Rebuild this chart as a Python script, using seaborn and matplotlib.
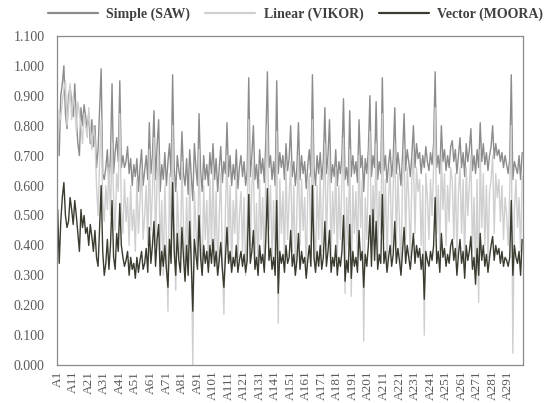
import numpy as np
import pandas as pd
import matplotlib
matplotlib.use("Agg")
import matplotlib.pyplot as plt
import seaborn as sns

# values, alternatives A1..A300
saw = [
    0.78, 0.70, 0.90, 0.94, 1.00, 0.84, 0.79, 0.90, 0.93, 0.88,
    0.83, 0.94, 0.82, 0.74, 0.70, 0.86, 0.80, 0.87, 0.83, 0.79,
    0.84, 0.74, 0.82, 0.73, 0.80, 0.66, 0.72, 0.86, 0.99, 0.64,
    0.62, 0.66, 0.72, 0.60, 0.70, 0.94, 0.64, 0.71, 0.76, 0.68,
    0.95, 0.66, 0.70, 0.66, 0.68, 0.73, 0.64, 0.69, 0.60, 0.67,
    0.63, 0.69, 0.58, 0.66, 0.72, 0.60, 0.65, 0.70, 0.62, 0.81,
    0.64, 0.70, 0.85, 0.62, 0.73, 0.82, 0.58, 0.67, 0.62, 0.71,
    0.60, 0.68, 0.74, 0.63, 0.97, 0.66, 0.58, 0.70, 0.65, 0.62,
    0.78, 0.64, 0.60, 0.69, 0.57, 0.72, 0.63, 0.55, 0.74, 0.66,
    0.60, 0.84, 0.65, 0.58, 0.70, 0.62, 0.67, 0.60, 0.71, 0.64,
    0.74, 0.62, 0.69, 0.58, 0.66, 0.73, 0.61, 0.68, 0.64, 0.81,
    0.63, 0.70, 0.60, 0.67, 0.62, 0.72, 0.59, 0.66, 0.70, 0.63,
    0.68, 0.60, 0.65, 0.96, 0.63, 0.70, 0.80, 0.62, 0.67, 0.59,
    0.72, 0.64, 0.69, 0.61, 0.75, 0.98, 0.66, 0.70, 0.62, 0.68,
    0.60, 0.95, 0.64, 0.71, 0.66, 0.70, 0.62, 0.74, 0.65, 0.69,
    0.80, 0.63, 0.68, 0.60, 0.66, 0.81, 0.62, 0.70, 0.64, 0.68,
    0.59, 0.67, 0.72, 0.63, 0.97, 0.66, 0.60, 0.70, 0.64, 0.71,
    0.62, 0.68, 0.86, 0.64, 0.70, 0.82, 0.61, 0.67, 0.63, 0.72,
    0.60, 0.68, 0.64, 0.70, 0.89, 0.62, 0.66, 0.60, 0.85, 0.63,
    0.70, 0.64, 0.68, 0.61, 0.82, 0.66, 0.70, 0.58, 0.69, 0.64,
    0.72, 0.90, 0.63, 0.70, 0.66, 0.88, 0.62, 0.68, 0.64, 0.96,
    0.65, 0.70, 0.61, 0.67, 0.72, 0.63, 0.69, 0.86, 0.64, 0.71,
    0.66, 0.60, 0.70, 0.84, 0.65, 0.72, 0.68, 0.63, 0.70, 0.80,
    0.66, 0.74, 0.69, 0.71, 0.64, 0.70, 0.66, 0.73, 0.68, 0.65,
    0.71, 0.67, 0.74, 0.98, 0.66, 0.70, 0.64, 0.80, 0.68, 0.72,
    0.65, 0.70, 0.66, 0.73, 0.75, 0.68, 0.72, 0.64, 0.70, 0.76,
    0.66, 0.71, 0.63, 0.74, 0.68, 0.72, 0.79, 0.65, 0.70, 0.64,
    0.72, 0.66, 0.81, 0.68, 0.74, 0.67, 0.71, 0.65, 0.70, 0.73,
    0.80, 0.69, 0.74, 0.70, 0.72, 0.68, 0.71, 0.66, 0.70, 0.67,
    0.64, 0.69, 0.97, 0.62, 0.68, 0.66, 0.64, 0.70, 0.62, 0.71,
]

vikor = [
    0.70, 0.85, 0.82, 0.88, 0.92, 0.95, 0.80, 0.86, 0.94, 0.82,
    0.90, 0.86, 0.78, 0.88, 0.84, 0.80, 0.74, 0.84, 0.80, 0.76,
    0.86, 0.78, 0.72, 0.80, 0.76, 0.60, 0.50, 0.68, 0.82, 0.55,
    0.48, 0.60, 0.52, 0.66, 0.50, 0.74, 0.56, 0.45, 0.64, 0.58,
    0.84, 0.52, 0.44, 0.62, 0.48, 0.56, 0.40, 0.60, 0.45, 0.52,
    0.38, 0.62, 0.44, 0.55, 0.66, 0.42, 0.50, 0.60, 0.40, 0.72,
    0.45, 0.58, 0.76, 0.40, 0.62, 0.70, 0.36, 0.55, 0.30, 0.60,
    0.42, 0.18, 0.64, 0.40, 0.80, 0.48, 0.25, 0.58, 0.44, 0.36,
    0.68, 0.46, 0.30, 0.56, 0.34, 0.62, 0.40, 0.00, 0.58, 0.46,
    0.35, 0.72, 0.44, 0.30, 0.60, 0.42, 0.55, 0.34, 0.62, 0.40,
    0.66, 0.38, 0.58, 0.30, 0.50, 0.64, 0.36, 0.17, 0.52, 0.70,
    0.40, 0.60, 0.32, 0.55, 0.44, 0.62, 0.35, 0.50, 0.58, 0.38,
    0.56, 0.30, 0.48, 0.82, 0.40, 0.60, 0.68, 0.36, 0.54, 0.30,
    0.62, 0.42, 0.56, 0.34, 0.64, 0.80, 0.45, 0.60, 0.36, 0.55,
    0.32, 0.78, 0.14, 0.62, 0.44, 0.58, 0.36, 0.66, 0.42, 0.56,
    0.68, 0.38, 0.60, 0.30, 0.52, 0.70, 0.40, 0.62, 0.45, 0.56,
    0.30, 0.58, 0.64, 0.36, 0.82, 0.48, 0.34, 0.60, 0.42, 0.64,
    0.38, 0.56, 0.74, 0.40, 0.62, 0.70, 0.36, 0.58, 0.44, 0.66,
    0.35, 0.60, 0.42, 0.62, 0.76, 0.24, 0.56, 0.40, 0.72, 0.23,
    0.60, 0.44, 0.58, 0.36, 0.70, 0.46, 0.62, 0.08, 0.56, 0.42,
    0.64, 0.78, 0.40, 0.60, 0.48, 0.74, 0.36, 0.58, 0.44, 0.84,
    0.42, 0.62, 0.34, 0.56, 0.66, 0.38, 0.60, 0.74, 0.40, 0.64,
    0.48, 0.32, 0.62, 0.72, 0.42, 0.66, 0.56, 0.36, 0.62, 0.70,
    0.44, 0.66, 0.58, 0.62, 0.40, 0.60, 0.10, 0.64, 0.56, 0.42,
    0.62, 0.50, 0.66, 0.86, 0.44, 0.60, 0.38, 0.70, 0.52, 0.64,
    0.40, 0.60, 0.48, 0.66, 0.62, 0.42, 0.64, 0.36, 0.58, 0.66,
    0.44, 0.62, 0.34, 0.66, 0.50, 0.60, 0.70, 0.38, 0.56, 0.30,
    0.62, 0.21, 0.72, 0.46, 0.64, 0.40, 0.60, 0.36, 0.58, 0.62,
    0.70, 0.44, 0.64, 0.56, 0.62, 0.48, 0.60, 0.42, 0.56, 0.50,
    0.40, 0.58, 0.80, 0.04, 0.52, 0.62, 0.46, 0.56, 0.38, 0.63,
]

moora = [
    0.52, 0.34, 0.48, 0.56, 0.61, 0.50, 0.46, 0.48, 0.56, 0.52,
    0.47, 0.55, 0.50, 0.44, 0.38, 0.52, 0.46, 0.50, 0.44, 0.46,
    0.40, 0.47, 0.43, 0.38, 0.45, 0.36, 0.33, 0.46, 0.60, 0.38,
    0.30, 0.34, 0.42, 0.32, 0.40, 0.55, 0.36, 0.32, 0.44, 0.38,
    0.54, 0.40, 0.36, 0.33, 0.35, 0.38, 0.30, 0.36, 0.32, 0.34,
    0.29, 0.36, 0.31, 0.35, 0.38, 0.32, 0.34, 0.39, 0.31, 0.46,
    0.34, 0.40, 0.48, 0.33, 0.42, 0.47, 0.30, 0.38, 0.33, 0.40,
    0.32, 0.26, 0.42, 0.34, 0.61, 0.38, 0.30, 0.44, 0.35, 0.31,
    0.46, 0.36, 0.28, 0.40, 0.30, 0.48, 0.34, 0.18, 0.42, 0.37,
    0.32, 0.50, 0.36, 0.30, 0.40, 0.34, 0.38, 0.31, 0.40, 0.34,
    0.42, 0.33, 0.38, 0.30, 0.35, 0.41, 0.32, 0.26, 0.36, 0.46,
    0.34, 0.38, 0.31, 0.36, 0.33, 0.40, 0.31, 0.35, 0.38, 0.33,
    0.37, 0.31, 0.35, 0.57, 0.34, 0.38, 0.45, 0.32, 0.36, 0.30,
    0.40, 0.34, 0.37, 0.31, 0.42, 0.59, 0.35, 0.39, 0.32, 0.36,
    0.30, 0.55, 0.24, 0.38, 0.34, 0.37, 0.31, 0.40, 0.34, 0.36,
    0.45, 0.33, 0.37, 0.30, 0.35, 0.44, 0.32, 0.38, 0.34, 0.36,
    0.29, 0.35, 0.40, 0.33, 0.60, 0.36, 0.31, 0.38, 0.33, 0.40,
    0.32, 0.36, 0.48, 0.33, 0.38, 0.45, 0.31, 0.36, 0.33, 0.40,
    0.30, 0.36, 0.33, 0.38, 0.50, 0.28, 0.35, 0.31, 0.47, 0.29,
    0.38, 0.33, 0.36, 0.31, 0.45, 0.35, 0.38, 0.26, 0.37, 0.33,
    0.40, 0.50, 0.33, 0.52, 0.35, 0.48, 0.32, 0.37, 0.34, 0.57,
    0.34, 0.38, 0.31, 0.36, 0.40, 0.33, 0.37, 0.48, 0.34, 0.39,
    0.35, 0.30, 0.38, 0.46, 0.34, 0.40, 0.36, 0.32, 0.38, 0.44,
    0.34, 0.40, 0.36, 0.39, 0.32, 0.37, 0.22, 0.38, 0.35, 0.33,
    0.38, 0.35, 0.40, 0.56, 0.34, 0.38, 0.31, 0.44, 0.36, 0.39,
    0.33, 0.37, 0.34, 0.40, 0.42, 0.35, 0.39, 0.30, 0.37, 0.42,
    0.34, 0.38, 0.29, 0.40, 0.35, 0.38, 0.43, 0.32, 0.36, 0.27,
    0.39, 0.30, 0.44, 0.35, 0.40, 0.33, 0.37, 0.31, 0.36, 0.40,
    0.43, 0.35, 0.40, 0.37, 0.39, 0.34, 0.38, 0.33, 0.36, 0.35,
    0.33, 0.36, 0.55, 0.30, 0.40, 0.36, 0.34, 0.38, 0.30, 0.42,
]

alternatives = ["A" + str(i) for i in range(1, len(saw) + 1)]
series_names = ["Simple (SAW)", "Linear (VIKOR)", "Vector (MOORA)"]
colors = ["#8c8c8c", "#cfcfcf", "#3b3c30"]

# long-form table for seaborn
df = pd.DataFrame({
    "pos": np.tile(np.arange(len(saw)), 3),
    "value": saw + vikor + moora,
    "method": np.repeat(series_names, len(saw)),
})

sns.set_style("white")
plt.rcParams["font.family"] = ["Liberation Serif", "DejaVu Serif"]

fig = plt.figure(figsize=(5.47, 4.03), dpi=100)
ax = fig.add_axes([0.104, 0.094, 0.852, 0.817])

sns.lineplot(data=df, x="pos", y="value", hue="method", hue_order=series_names,
             palette=colors, linewidth=1.0, ax=ax, legend=False)

ax.set_xlim(-0.5, len(saw) - 0.5)
ax.set_ylim(0, 1.1)
ax.set_yticks(np.arange(0, 1.101, 0.1))
ax.set_yticklabels(["%.3f" % v for v in np.arange(0, 1.101, 0.1)])
ax.set_xticks(np.arange(0, len(saw), 10))
ax.set_xticklabels(alternatives[::10], rotation=90)
ax.tick_params(axis="y", labelsize=10, labelcolor="#595959", length=0, pad=9)
ax.tick_params(axis="x", labelsize=9.5, labelcolor="#595959", length=0, pad=4)
ax.set_xlabel("")
ax.set_ylabel("")
for s in ax.spines.values():
    s.set_color("#8a8a8a")
    s.set_linewidth(0.9)

handles = [plt.Line2D([], [], color=c, lw=1.6) for c in colors]
fig.legend(handles, series_names, loc="upper center", bbox_to_anchor=(0.54, 1.012),
           ncol=3, frameon=False, prop={"weight": "bold", "size": 10},
           labelcolor="#404040", handlelength=3.6, columnspacing=1.1, handletextpad=0.6)

fig.savefig("out.png", dpi=100)
